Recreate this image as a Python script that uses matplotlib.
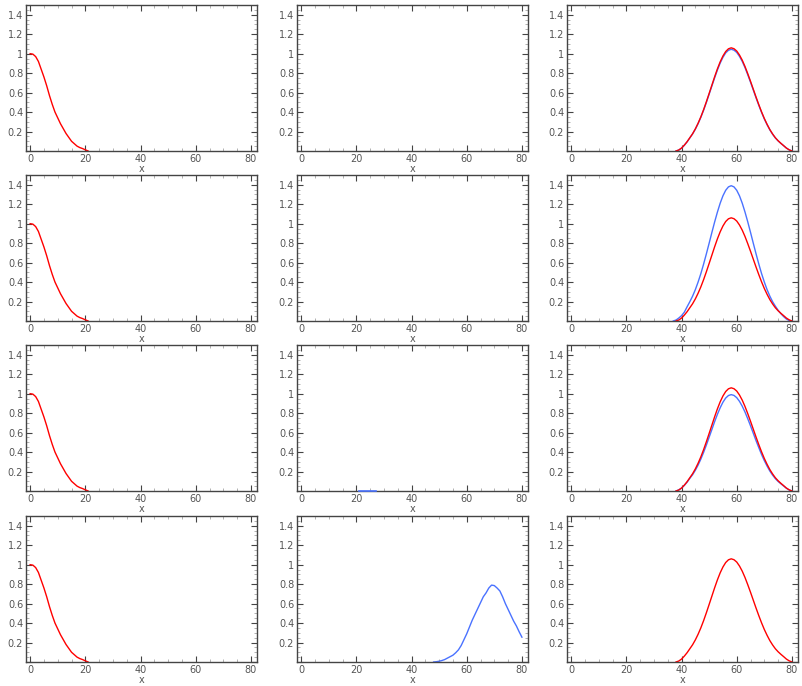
import numpy as np
import matplotlib.pyplot as plt
from matplotlib.ticker import MultipleLocator, FuncFormatter

# columna 1: curva roja que decae (igual en las 4 filas)
x_decae = list(range(0, 22))
y_decae = [1.0, 0.995, 0.97, 0.92, 0.84, 0.76, 0.67, 0.57, 0.48, 0.40, 0.34,
           0.28, 0.23, 0.18, 0.14, 0.10, 0.075, 0.05, 0.035, 0.025, 0.012, 0.0]

# columna 3: pulso rojo (igual en las 4 filas)
x_pulso = list(range(38, 81))
y_rojo = [0.0, 0.01, 0.03, 0.06, 0.095, 0.136, 0.177, 0.227, 0.285, 0.351,
          0.425, 0.506, 0.591, 0.677, 0.763, 0.844, 0.916, 0.976, 1.022, 1.050,
          1.060, 1.051, 1.027, 0.986, 0.933, 0.868, 0.794, 0.716, 0.635, 0.554,
          0.476, 0.402, 0.334, 0.274, 0.220, 0.175, 0.136, 0.105, 0.079, 0.055,
          0.030, 0.012, 0.0]

# azul fila 1 (casi igual al rojo)
y_azul1 = [0.0, 0.01, 0.029, 0.058, 0.093, 0.134, 0.175, 0.224, 0.281, 0.346,
           0.419, 0.499, 0.583, 0.668, 0.752, 0.832, 0.903, 0.962, 1.008, 1.035,
           1.045, 1.036, 1.013, 0.972, 0.920, 0.856, 0.783, 0.706, 0.626, 0.546,
           0.469, 0.396, 0.329, 0.270, 0.217, 0.172, 0.134, 0.104, 0.078, 0.054,
           0.030, 0.012, 0.0]

# azul fila 2 (pico mas alto)
x_azul2 = list(range(37, 81))
y_azul2 = [0.0, 0.01, 0.03, 0.055, 0.09, 0.145, 0.198, 0.255, 0.322, 0.400,
           0.487, 0.585, 0.690, 0.799, 0.910, 1.018, 1.119, 1.210, 1.286, 1.343,
           1.378, 1.390, 1.378, 1.343, 1.286, 1.210, 1.119, 1.018, 0.910, 0.799,
           0.690, 0.585, 0.487, 0.400, 0.322, 0.255, 0.198, 0.152, 0.11, 0.075,
           0.045, 0.02, 0.005, 0.0]

# azul fila 3 (pico un poco mas bajo)
y_azul3 = [0.0, 0.012, 0.03, 0.057, 0.09, 0.130, 0.167, 0.213, 0.266, 0.328,
           0.397, 0.472, 0.552, 0.632, 0.713, 0.788, 0.855, 0.912, 0.955, 0.981,
           0.990, 0.982, 0.959, 0.921, 0.871, 0.811, 0.742, 0.669, 0.593, 0.517,
           0.445, 0.375, 0.312, 0.256, 0.205, 0.163, 0.127, 0.098, 0.074, 0.051,
           0.028, 0.011, 0.0]

# fila 3 columna 2: tramo azul casi en cero
x_tramo = [21, 24, 27]
y_tramo = [0.0, 0.0, 0.0]

# fila 4 columna 2: pulso azul
x_azul4 = list(range(48, 81))
y_azul4 = [0.0, 0.003, 0.008, 0.015, 0.025, 0.04, 0.055, 0.07, 0.095, 0.125,
           0.17, 0.23, 0.29, 0.36, 0.43, 0.49, 0.55, 0.61, 0.67, 0.71, 0.76,
           0.79, 0.785, 0.76, 0.73, 0.67, 0.6, 0.54, 0.48, 0.42, 0.37, 0.31,
           0.255]

ROJO = '#ff0000'
AZUL = '#4a72ff'

fig = plt.figure(figsize=(8.03, 6.86), dpi=100)
W, H = 803.0, 686.0
izq = [26, 297, 567]
arriba = [5, 175, 345, 516]
ancho, alto = 231, 146


def fmt(v, pos):
    if v < 0.1:
        return ''
    return '%g' % round(v, 2)


ejes = {}
for i in range(4):
    for j in range(3):
        ax = fig.add_axes([izq[j] / W, 1 - (arriba[i] + alto) / H, ancho / W, alto / H])
        ax.set_xlim(-1.5, 82.2)
        ax.set_ylim(0, 1.5)
        ax.xaxis.set_major_locator(MultipleLocator(20))
        ax.xaxis.set_minor_locator(MultipleLocator(5))
        ax.yaxis.set_major_locator(MultipleLocator(0.2))
        ax.yaxis.set_minor_locator(MultipleLocator(0.05))
        ax.yaxis.set_major_formatter(FuncFormatter(fmt))
        ax.tick_params(which='both', direction='in', top=True, right=True,
                       colors='#444444', labelcolor='#555555', labelsize=7, pad=2)
        ax.tick_params(which='major', length=4, width=0.8)
        ax.tick_params(which='minor', length=2, width=0.4, colors='#777777')
        for s in ax.spines.values():
            s.set_color('#444444')
            s.set_linewidth(1.0)
        ax.set_xlabel('x', fontsize=7, color='#555555', labelpad=0)
        ejes[(i, j)] = ax

for i in range(4):
    ejes[(i, 0)].plot(x_decae, y_decae, color=ROJO, lw=1.0)

ejes[(0, 2)].plot(x_pulso, y_azul1, color=AZUL, lw=1.0)
ejes[(0, 2)].plot(x_pulso, y_rojo, color=ROJO, lw=1.0)
ejes[(1, 2)].plot(x_azul2, y_azul2, color=AZUL, lw=1.0)
ejes[(1, 2)].plot(x_pulso, y_rojo, color=ROJO, lw=1.0)
ejes[(2, 2)].plot(x_pulso, y_azul3, color=AZUL, lw=1.0)
ejes[(2, 2)].plot(x_pulso, y_rojo, color=ROJO, lw=1.0)
ejes[(3, 2)].plot(x_pulso, y_rojo, color=ROJO, lw=1.0)

ejes[(2, 1)].plot(x_tramo, y_tramo, color=AZUL, lw=1.2, clip_on=False, zorder=5)
ejes[(3, 1)].plot(x_azul4, y_azul4, color=AZUL, lw=1.0)

fig.savefig('out.png', dpi=100)
